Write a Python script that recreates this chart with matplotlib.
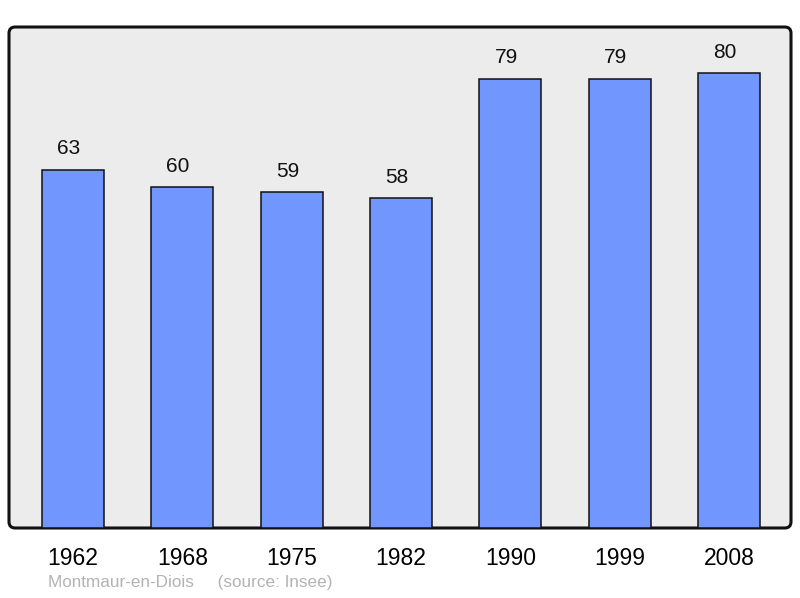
import matplotlib.pyplot as plt
from matplotlib.patches import FancyBboxPatch

plt.rcParams['font.family'] = ['Liberation Sans', 'DejaVu Sans']

years = ['1962', '1968', '1975', '1982', '1990', '1999', '2008']
population = [63, 60, 59, 58, 79, 79, 80]
commune = 'Montmaur-en-Diois'
source = '(source: Insee)'

fig = plt.figure(figsize=(8, 5.98), dpi=100)
ax = fig.add_axes([9 / 800, 70 / 598, 782 / 800, 501 / 598])
ax.set_facecolor('none')

# rounded grey frame behind the bars
frame = FancyBboxPatch((0, 0), 1, 1, boxstyle='round,pad=0,rounding_size=0.008',
                       transform=ax.transAxes, facecolor='#ececec',
                       edgecolor='#111111', linewidth=2.2, zorder=0,
                       mutation_aspect=782 / 501, clip_on=False)
ax.add_patch(frame)

x = range(len(years))
bars = ax.bar(x, population, width=0.567, color='#7197ff',
              edgecolor='#111111', linewidth=1.1, zorder=2)
for xi, v in zip(x, population):
    ax.annotate(str(v), (xi, v), xytext=(-3, 11), textcoords='offset points',
                ha='center', va='baseline', fontsize=15, color='#111111')

ax.set_xlim(-0.585, 6.567)
ax.set_ylim(0, 88.1)
ax.set_xticks(list(x))
ax.set_xticklabels(years, fontsize=16.5)
ax.tick_params(axis='x', length=0, pad=14)
ax.set_yticks([])
for s in ax.spines.values():
    s.set_visible(False)

fig.text(48 / 800, 1 - 583 / 598, commune + '     ' + source, fontsize=12.3,
         color='#b3b3b3', va='center', ha='left')

fig.savefig('out.png', dpi=100)
